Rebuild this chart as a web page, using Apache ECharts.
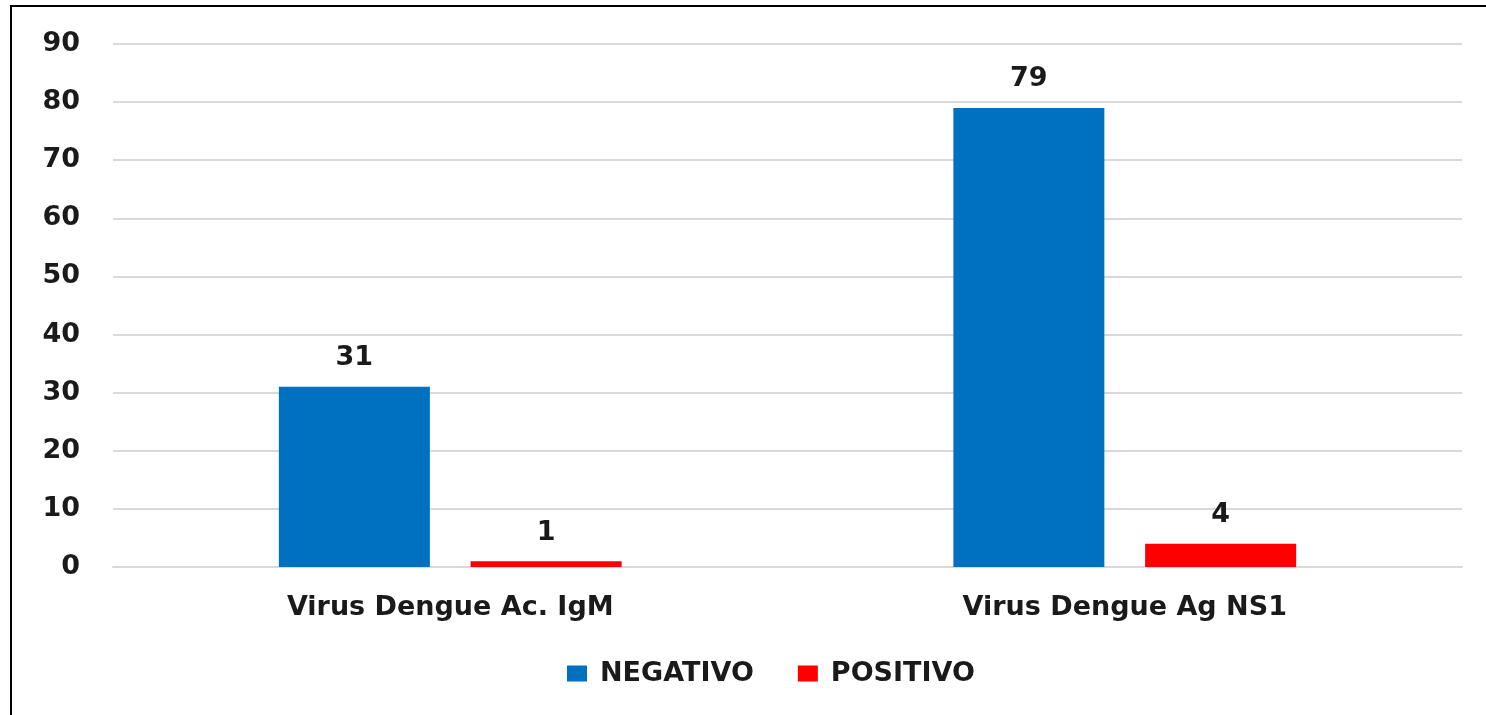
<!DOCTYPE html>
<html>
<head>
<meta charset="utf-8">
<script src="https://cdn.jsdelivr.net/npm/echarts@6/dist/echarts.min.js"></script>
<style>
    html, body { margin: 0; padding: 0; background: #fff; }
    #chart { width: 1486px; height: 715px; }
</style>
</head>
<body>
<div id="chart"></div>
<script>
// data
const categories = ["Virus Dengue Ac. IgM", "Virus Dengue Ag NS1"];
const negativo = [31, 79];
const positivo = [1, 4];
const seriesNames = ["NEGATIVO", "POSITIVO"];

const font = "DejaVu Sans";
const labelStyle = {
    fontFamily: font,
    fontWeight: "bold",
    fontSize: 27,
    color: "#1a1a1a"
};

const chart = echarts.init(document.getElementById("chart"));

const option = {
    animation: false,
    graphic: [
        {
            type: "rect",
            shape: { x: 11, y: 6, width: 1500, height: 730 },
            style: { fill: "none", stroke: "#000", lineWidth: 2 },
            silent: true
        }
    ],
    grid: {
        left: 113,
        right: 24,
        top: 44,
        bottom: 148,
        containLabel: false
    },
    legend: {
        left: 562,
        top: 655,
        itemWidth: 20,
        itemHeight: 16,
        itemGap: 44,
        icon: "rect",
        data: seriesNames,
        textStyle: Object.assign({}, labelStyle, { padding: [0, 0, 0, 8] })
    },
    xAxis: {
        type: "category",
        data: categories,
        axisLine: { lineStyle: { color: "#d9d9d9", width: 2 } },
        axisTick: { show: false },
        axisLabel: Object.assign({}, labelStyle, { margin: 27 })
    },
    yAxis: {
        type: "value",
        min: 0,
        max: 90,
        interval: 10,
        axisLine: { show: false },
        axisTick: { show: false },
        splitLine: { lineStyle: { color: "#d9d9d9", width: 2 } },
        axisLabel: Object.assign({}, labelStyle, { margin: 33 })
    },
    series: [
        {
            name: seriesNames[0],
            type: "bar",
            data: negativo,
            barWidth: 151,
            barGap: "27%",
            itemStyle: { color: "#0070c0" },
            label: Object.assign({ show: true, position: "top", distance: 15 }, labelStyle)
        },
        {
            name: seriesNames[1],
            type: "bar",
            data: positivo,
            barWidth: 151,
            barGap: "27%",
            itemStyle: { color: "#ff0000" },
            label: Object.assign({ show: true, position: "top", distance: 15 }, labelStyle)
        }
    ]
};

chart.setOption(option);
</script>
</body>
</html>
